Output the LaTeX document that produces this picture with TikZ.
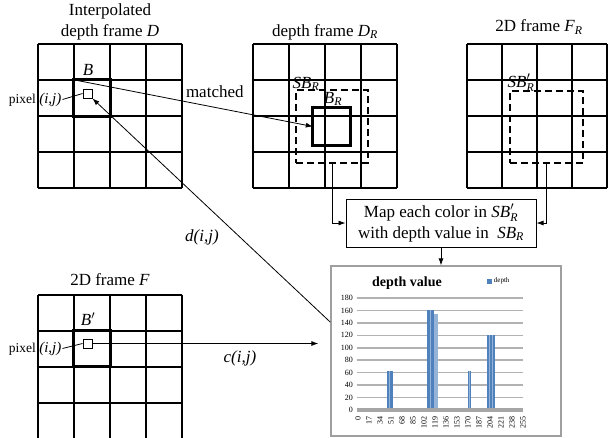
\documentclass[tikz,border=0pt]{standalone}
\usepackage{amsmath}
\usepackage{fontspec}
\setmainfont{Liberation Serif}
\usetikzlibrary{arrows,arrows.meta,positioning}

\definecolor{barblue}{RGB}{79,129,189}
\definecolor{barlight}{RGB}{149,179,215}

\begin{document}
\begin{tikzpicture}[x=1pt,y=-1pt]
\tikzstyle{every node}=[font=\fontsize{17}{21}\selectfont]
\tikzstyle{frame}=[line width=1.2pt]
\tikzstyle{blockbox}=[inner sep=0pt, minimum size=36pt]
\tikzstyle{heavy}=[line width=3pt]
\tikzstyle{search}=[draw, line width=2pt, dash pattern=on 7pt off 4pt, inner sep=0pt]
\tikzstyle{pix}=[draw, line width=0.9pt, fill=white, minimum size=9pt, inner sep=0pt]
\tikzstyle{small}=[font=\fontsize{13.5}{15}\selectfont, inner sep=1pt]
\tikzstyle{tick}=[font=\fontsize{8}{9}\selectfont, inner sep=1pt]
\tikzstyle{wire}=[line width=0.8pt]
\tikzstyle{arr}=[wire, -{Latex[length=7pt,width=5pt]}]
\useasboundingbox (0,0) rectangle (608,437);

% four frames of 4x4 cells
\foreach \fx/\fy/\cw in {38/44/36, 253/44/36, 467/44/35, 38/295/36} {
  \foreach \k in {0,...,4} {
    \draw[frame] (\fx+\k*\cw,\fy) -- (\fx+\k*\cw,\fy+144);
    \draw[frame] (\fx,\fy+\k*36) -- (\fx+4*\cw,\fy+\k*36);
  }
}

\node [align=center] (tD) at (110,22) {Interpolated\\depth frame \textit{D}};
\node (tDR) at (325,32) {depth frame $\textit{D}_{\textit{R}}$};
\node (tFR) at (539,27) {2D frame $\textit{F}_{\textit{R}}$};
\node (tF) at (110,280) {2D frame \textit{F}};

% blocks and search windows
\node [blockbox] (B) at (92,98) {};
\node [blockbox] (Bp) at (92,348.5) {};
\node [blockbox, minimum size=37pt] (BR) at (331.5,126.5) {};
\foreach \b in {B,Bp,BR}
  \draw [heavy] (\b.north west) rectangle (\b.south east);
\node [search, minimum width=72pt, minimum height=73pt] (SBR) at (332,126.5) {};
\node [search, minimum width=73pt, minimum height=72pt] (SBF) at (546.5,127) {};
\node [above=1pt of B, xshift=-4pt] (lB) {\textit{B}};
\node [above=1pt of Bp, xshift=-4pt] (lBp) {$\textit{B}'$};
\node (lSBR) at (306,84) {$\textit{SB}_{\textit{R}}$};
\node (lBR) at (333,99) {$\textit{B}_{\textit{R}}$};
\node (lSBF) at (521,83) {$\textit{SB}'_{\textit{R}}$};

% pixels
\node [pix] (p1) at (87.5,93.5) {};
\node [pix] (p2) at (87.5,343.5) {};
\node [small, left=20pt of p1, yshift=-6pt] (l1) {pixel {\fontsize{15}{15}\selectfont\textit{(i,j)}}};
\node [small, left=20pt of p2, yshift=-5pt] (l2) {pixel {\fontsize{15}{15}\selectfont\textit{(i,j)}}};
\draw [wire] (l1.east) -- (p1.west);
\draw [wire] (l2.east) -- (p2.west);

\node [draw, line width=1pt, minimum width=190pt, minimum height=48pt, align=center] (map) at (441,223)
  {Map each color in $\textit{SB}'_{\textit{R}}$\\with depth value in~ $\textit{SB}_{\textit{R}}$};

% histogram
\node [draw=gray!75, line width=1.3pt, fill=white, minimum width=230pt, minimum height=170pt] (C) at (446,351) {};
\node [font=\bfseries\fontsize{14}{16}\selectfont] (ctitle) at (407,283) {depth value};
\node [fill=barblue, minimum size=5pt, inner sep=0pt] (key) at (489,281) {};
\node [tick, font=\fontsize{7}{8}\selectfont, right=1pt of key] (keyl) {depth};
\begin{scope}[shift={(358,410)}, x=0.647pt, y=0.622pt]
  \foreach \v in {20,40,...,180} \draw [gray!60, line width=1.6pt] (-2,\v) -- (255,\v);
  \fill [barblue] (45,0) rectangle (54,63);
  \fill [barblue] (107,0) rectangle (117,160);
  \fill [barlight] (117,0) rectangle (123,155);
  \fill [barblue] (170,0) rectangle (174,63);
  \fill [barblue] (199,0) rectangle (211,120);
  \foreach \s/\h in {49/63, 111/160, 172/63, 203/120, 207/120}
    \draw [barlight, line width=0.6pt] (\s,0) -- (\s,\h);
  \draw [gray!70, line width=3.5pt] (-2,0) -- (255,0);
  \foreach \v in {0,20,...,180} \node [tick, left] at (-6,\v) {\v};
  \foreach \b in {0,17,...,255} \node [tick, rotate=90, anchor=east] at (\b,-9) {\b};
\end{scope}

% connectors
\draw [arr] (B.north west) -- node [pos=.59, above=6pt] {matched} (BR.west);
\draw [arr] (C.166) -- (p1.south east);
\node (dl) at (202,237) {\textit{d(i,j)}};
\draw [arr, shorten >=12pt] (p2.east) -- (p2 -| C.west) node [pos=.62, below=3pt] {\textit{c(i,j)}};
\draw [arr] (SBR.south) |- (map.west);
\draw [arr] (SBF.south) |- (map.east);
\draw [arr] (map.south) -- (map.south |- C.north);
\end{tikzpicture}
\end{document}
